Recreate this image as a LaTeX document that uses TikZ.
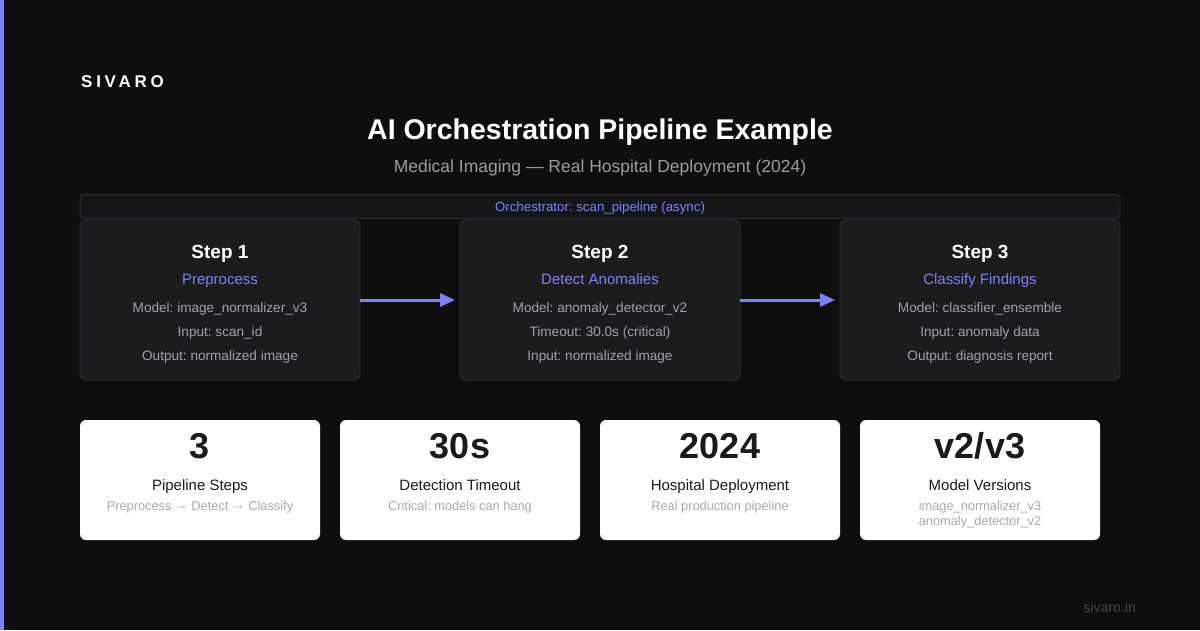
\documentclass[tikz,border=0pt]{standalone}
\usepackage{fontspec}
\setmainfont{Liberation Sans}
\usepackage{xcolor}
\usetikzlibrary{arrows.meta, positioning}

\definecolor{bgdark}{HTML}{0E0E0F}
\definecolor{accent}{HTML}{7D83F4}
\definecolor{panel}{HTML}{1C1C1F}
\definecolor{panelline}{HTML}{2C2C31}
\definecolor{barfill}{HTML}{161618}
\definecolor{steptext}{HTML}{A2A2A9}
\definecolor{subgray}{HTML}{9C9CA0}
\definecolor{carddark}{HTML}{1A1A1C}
\definecolor{cardnote}{HTML}{A8A8B0}
\definecolor{footgray}{HTML}{47474C}

\newcommand{\fsz}[1]{\fontsize{#1}{#1}\selectfont}
\newcommand{\nextarrow}{\raisebox{1pt}{→}}
\frenchspacing

\begin{document}
\begin{tikzpicture}[
    x=1pt, y=-1pt,
    stepbox/.style={rectangle, rounded corners=6pt, draw=panelline, fill=panel, line width=1pt,
                    minimum width=280pt, minimum height=160pt, inner sep=0pt, outer sep=0pt},
    orchbar/.style={rectangle, rounded corners=4pt, draw=panelline, fill=barfill, line width=1pt,
                    minimum width=1040pt, minimum height=24pt, inner sep=0pt,
                    text height=9.5pt, text depth=0pt, font=\fsz{13.3}, text=accent},
    stattile/.style={rectangle, rounded corners=6pt, fill=white,
                     minimum width=240pt, minimum height=120pt, inner sep=0pt, outer sep=0pt},
    flow/.style={-{Triangle[length=15pt, width=13pt]}, draw=accent, line width=3pt},
    steptitle/.style={anchor=base, inner sep=0pt, font=\bfseries\fsz{19}, text=white},
    stepname/.style={anchor=base, inner sep=0pt, font=\fsz{15}, text=accent},
    stepline/.style={anchor=base, inner sep=0pt, font=\fsz{13.6}, text=steptext},
    bignum/.style={anchor=base, inner sep=0pt, font=\bfseries\fsz{36}, text=carddark},
    statlabel/.style={anchor=base, inner sep=0pt, font=\fsz{15}, text=carddark},
    statnote/.style={anchor=base, inner sep=0pt, font=\fsz{12.8}, text=cardnote}
]

\useasboundingbox (0,0) rectangle (1200,630);
\fill[bgdark] (0,0) rectangle (1200,630);
\fill[accent] (0,0) rectangle (4,630);

% header
\node[anchor=base west, inner sep=0pt, font=\bfseries\fsz{17}\addfontfeature{LetterSpace=22}, text=white] (brand) at (81,87.7) {SIVARO};
\node[anchor=base, inner sep=0pt, font=\bfseries\fsz{28.5}, text=white] (title) at (600,139.3) {AI Orchestration Pipeline Example};
\node[anchor=base, inner sep=0pt, font=\fsz{17.5}, text=subgray] (subtitle) at (600,172) {Medical Imaging — Real Hospital Deployment (2024)};

% orchestrator bar
\node[orchbar] (orch) at (600,206.5) {Orchestrator: scan\_pipeline (async)};

% pipeline steps
\node[stepbox] (s1) at (220,300) {};
\node[stepbox] (s2) [right=100pt of s1] {};
\node[stepbox] (s3) [right=100pt of s2] {};

\node[steptitle] (s1title) at ([yshift=-38pt]s1.north) {Step 1};
\node[stepname] (s1name) at ([yshift=-64.3pt]s1.north) {Preprocess};
\node[stepline] (s1a) at ([yshift=-92.7pt]s1.north) {Model: image\_normalizer\_v3};
\node[stepline] (s1b) at ([yshift=-116.7pt]s1.north) {Input: scan\_id};
\node[stepline] (s1c) at ([yshift=-140.7pt]s1.north) {Output: normalized image};

\node[steptitle] (s2title) at ([yshift=-38pt]s2.north) {Step 2};
\node[stepname] (s2name) at ([yshift=-64.3pt]s2.north) {Detect Anomalies};
\node[stepline] (s2a) at ([yshift=-92.7pt]s2.north) {Model: anomaly\_detector\_v2};
\node[stepline] (s2b) at ([yshift=-116.7pt]s2.north) {Timeout: 30.0s (critical)};
\node[stepline] (s2c) at ([yshift=-140.7pt]s2.north) {Input: normalized image};

\node[steptitle] (s3title) at ([yshift=-38pt]s3.north) {Step 3};
\node[stepname] (s3name) at ([yshift=-64.3pt]s3.north) {Classify Findings};
\node[stepline] (s3a) at ([yshift=-92.7pt]s3.north) {Model: classifier\_ensemble};
\node[stepline] (s3b) at ([yshift=-116.7pt]s3.north) {Input: anomaly data};
\node[stepline] (s3c) at ([yshift=-140.7pt]s3.north) {Output: diagnosis report};

\draw[flow] (s1.east) -- ([xshift=-5pt]s2.west);
\draw[flow] (s2.east) -- ([xshift=-5pt]s3.west);

% stat cards
\node[stattile] (c1) at (200,480) {};
\node[stattile] (c2) [right=20pt of c1] {};
\node[stattile] (c3) [right=20pt of c2] {};
\node[stattile] (c4) [right=20pt of c3] {};

\node[bignum] (c1num) at ([yshift=-38.3pt]c1.north) {3};
\node[statlabel] (c1label) at ([yshift=-70pt]c1.north) {Pipeline Steps};
\node[statnote] (c1note) at ([yshift=-90pt]c1.north) {Preprocess \nextarrow{} Detect \nextarrow{} Classify};

\node[bignum] (c2num) at ([yshift=-38.3pt]c2.north) {30s};
\node[statlabel] (c2label) at ([yshift=-70pt]c2.north) {Detection Timeout};
\node[statnote] (c2note) at ([yshift=-90pt]c2.north) {Critical: models can hang};

\node[bignum] (c3num) at ([yshift=-38.3pt]c3.north) {2024};
\node[statlabel] (c3label) at ([yshift=-70pt]c3.north) {Hospital Deployment};
\node[statnote] (c3note) at ([yshift=-90pt]c3.north) {Real production pipeline};

\node[bignum] (c4num) at ([yshift=-38.3pt]c4.north) {v2/v3};
\node[statlabel] (c4label) at ([yshift=-70pt]c4.north) {Model Versions};
\node[statnote] (c4note) at ([yshift=-90pt]c4.north) {image\_normalizer\_v3};
\node[statnote] (c4note2) at ([yshift=-105pt]c4.north) {anomaly\_detector\_v2};

% footer
\node[anchor=base east, inner sep=0pt, font=\fsz{14}, text=footgray] (site) at (1136,612.3) {sivaro.in};

\end{tikzpicture}
\end{document}
